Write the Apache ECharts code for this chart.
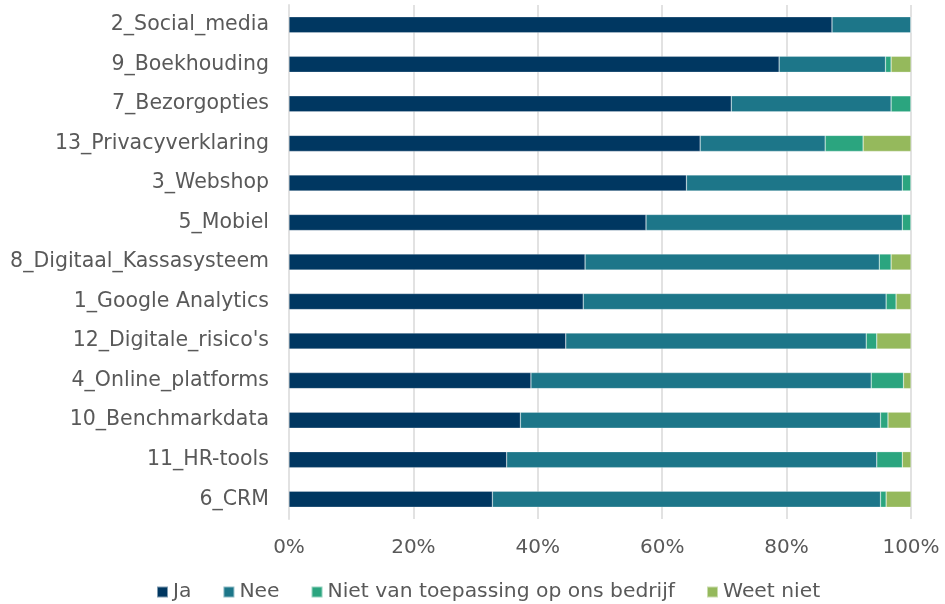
<!DOCTYPE html>
<html><head><meta charset="utf-8">
<script src="https://cdn.jsdelivr.net/npm/echarts@6/dist/echarts.min.js"></script>
<style>html,body{margin:0;padding:0;background:#fff}#c{width:945px;height:604px}</style>
</head><body><div id="c"></div>
<script>
const categories = ["2_Social_media","9_Boekhouding","7_Bezorgopties","13_Privacyverklaring","3_Webshop","5_Mobiel","8_Digitaal_Kassasysteem","1_Google Analytics","12_Digitale_risico's","4_Online_platforms","10_Benchmarkdata","11_HR-tools","6_CRM"];
const ja      = [87.3, 78.8, 71.1, 66.1, 63.9, 57.4, 47.6, 47.3, 44.5, 38.9, 37.2, 35.0, 32.7];
const nee     = [12.7, 17.1, 25.7, 20.1, 34.7, 41.2, 47.3, 48.7, 48.3, 54.7, 57.9, 59.5, 62.4];
const niet    = [0, 0.9, 3.2, 6.1, 1.4, 1.4, 1.9, 1.6, 1.7, 5.2, 1.2, 4.1, 0.9];
const weet    = [0, 3.2, 0, 7.7, 0, 0, 3.2, 2.4, 5.5, 1.2, 3.7, 1.4, 4.0];
const seriesNames = ["Ja","Nee","Niet van toepassing op ons bedrijf","Weet niet"];
const colors = ["#003761","#1d7689","#2ba57f","#95b95c"];
const tickLabels = ["0%","20%","40%","60%","80%","100%"];

const font = "DejaVu Sans";
const chart = echarts.init(document.getElementById('c'), null, {renderer:'canvas'});
const vals = [ja, nee, niet, weet];
chart.setOption({
  animation:false,
  color: colors,
  grid:{left:289, right:34, top:5, bottom:85, containLabel:false},
  legend:{
    bottom:2, left:156, padding:0,
    itemWidth:11, itemHeight:11, itemGap:31,
    icon:'rect',
    textStyle:{fontFamily:font, fontSize:20.3, color:'#595959'},
    data: seriesNames
  },
  xAxis:{
    type:'value', min:0, max:100, interval:20,
    axisLabel:{formatter:v=>tickLabels[Math.round(v/20)], fontFamily:font, fontSize:20, color:'#595959', margin:19},
    splitLine:{show:true, lineStyle:{color:'#e2e2e2', width:2}},
    axisLine:{show:false}, axisTick:{show:false}
  },
  yAxis:{
    type:'category', inverse:true, data:categories,
    axisLabel:{fontFamily:font, fontSize:20.5, color:'#595959', margin:20},
    axisLine:{show:true, lineStyle:{color:'#e2e2e2', width:2}},
    axisTick:{show:false}
  },
  series: seriesNames.map((n,i)=>({
    name:n, type:'bar', stack:'total', barWidth:16,
    itemStyle:{color:colors[i], borderColor:'rgba(255,255,255,0.5)', borderWidth:0.5},
    data: vals[i]
  }))
});
</script></body></html>
